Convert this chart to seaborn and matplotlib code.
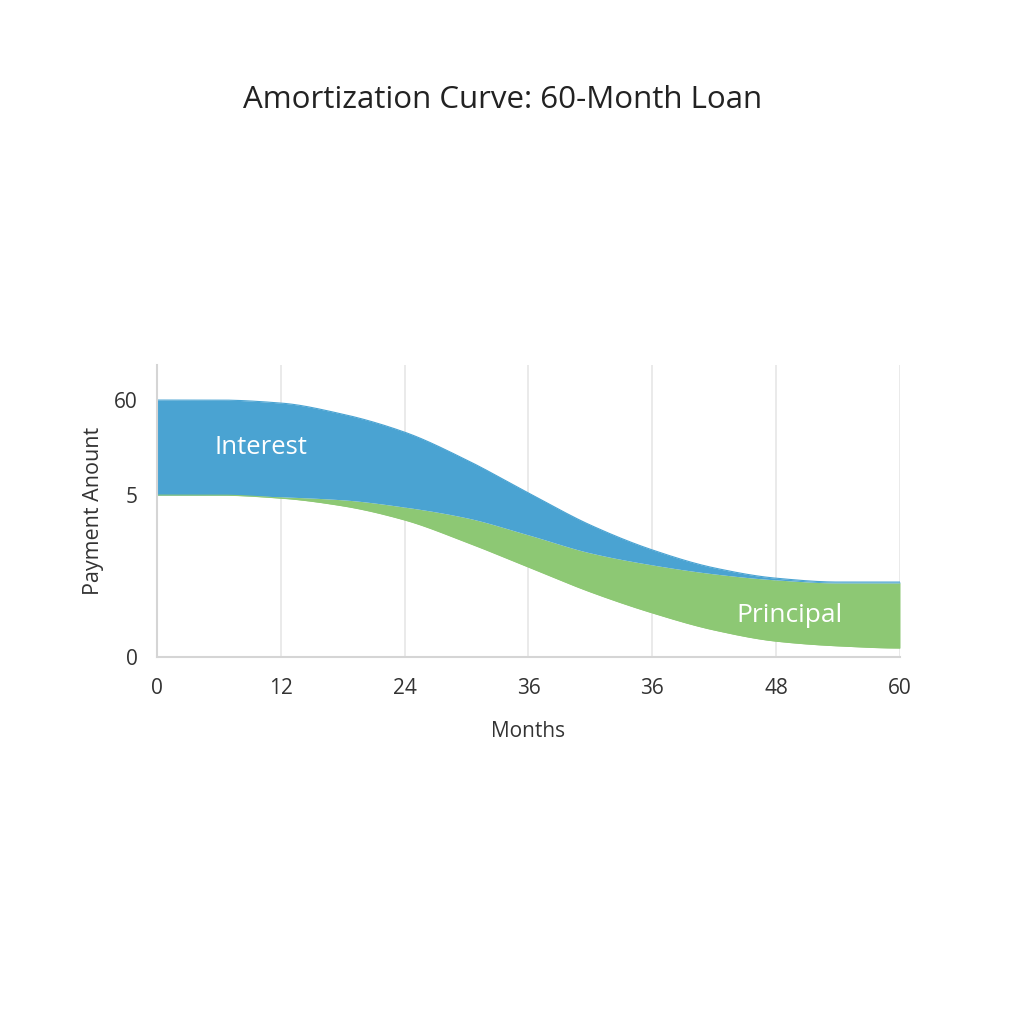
import numpy as np
import pandas as pd
import matplotlib
matplotlib.use("Agg")
import matplotlib.pyplot as plt
import seaborn as sns

# ---- data ----
months = [0, 5, 10, 15, 20, 25, 30, 35, 40, 45, 50, 55, 60]
baseline = [37.8, 37.8, 37.1, 35.3, 32.0, 26.8, 21.0, 15.2, 10.3, 6.3, 3.7, 2.6, 2.1]
principal = [0.0, 0.0, 0.3, 1.4, 3.0, 5.7, 7.5, 9.1, 11.2, 13.1, 14.3, 14.7, 15.2]
interest = [22.2, 22.2, 21.9, 20.0, 17.5, 13.5, 9.8, 6.5, 3.5, 1.4, 0.4, 0.2, 0.2]

x_tick_pos = [0, 10, 20, 30, 40, 50, 60]
x_tick_labels = ["0", "12", "24", "36", "36", "48", "60"]
y_tick_pos = [0, 37.8, 60]
y_tick_labels = ["0", "5", "60"]

title = "Amortization Curve: 60-Month Loan"
xlabel = "Months"
ylabel = "Payment Anount"

BLUE = "#4aa3d2"
GREEN = "#8dc874"

sns.set_theme(style="whitegrid")
plt.rcParams["font.family"] = ["Open Sans", "DejaVu Sans"]

df = pd.DataFrame({"month": months, "base": baseline,
                   "principal": principal, "interest": interest})
df["mid"] = df["base"] + df["principal"]
df["top"] = df["mid"] + df["interest"]

# smooth rendering of the edges (monotone cubic through the read points)
def pchip(x, y, xn):
    x = np.asarray(x, float); y = np.asarray(y, float)
    h = np.diff(x); d = np.diff(y) / h
    m = np.zeros_like(y)
    for i in range(1, len(y) - 1):
        if d[i - 1] * d[i] > 0:
            w1 = 2 * h[i] + h[i - 1]; w2 = h[i] + 2 * h[i - 1]
            m[i] = (w1 + w2) / (w1 / d[i - 1] + w2 / d[i])
    m[0] = 0.0
    m[-1] = 0.0
    idx = np.clip(np.searchsorted(x, xn) - 1, 0, len(x) - 2)
    t = (xn - x[idx]) / h[idx]
    h00 = 2 * t**3 - 3 * t**2 + 1; h10 = t**3 - 2 * t**2 + t
    h01 = -2 * t**3 + 3 * t**2; h11 = t**3 - t**2
    return h00 * y[idx] + h10 * h[idx] * m[idx] + h01 * y[idx + 1] + h11 * h[idx] * m[idx + 1]

xs = np.linspace(0, 60, 600)
base_s = pchip(df["month"], df["base"], xs)
mid_s = pchip(df["month"], df["mid"], xs)
top_s = pchip(df["month"], df["top"], xs)
mid_s = np.maximum(mid_s, base_s)
top_s = np.maximum(top_s, mid_s)

fig = plt.figure(figsize=(10.24, 10.24), dpi=100)
ax = fig.add_axes([0.1533, 0.3584, 0.7256, 0.2852])

ax.fill_between(xs, base_s, mid_s, color=GREEN, linewidth=0)
ax.fill_between(xs, mid_s, top_s, color=BLUE, linewidth=0)
sns.lineplot(x=xs, y=top_s, color=BLUE, linewidth=0.8, ax=ax)
sns.lineplot(x=xs, y=base_s, color=GREEN, linewidth=0.8, ax=ax)

ax.set_xlim(0, 60)
ax.set_ylim(0, 68.2)
ax.set_xticks(x_tick_pos)
ax.set_xticklabels(x_tick_labels)
ax.set_yticks(y_tick_pos)
ax.set_yticklabels(y_tick_labels)
ax.tick_params(axis="x", labelsize=15, colors="#333333", pad=15, length=0)
ax.tick_params(axis="y", labelsize=15, colors="#333333", pad=14, length=0)

ax.grid(axis="y", visible=False)
ax.grid(axis="x", color="#e6e6e6", linewidth=1.2)
ax.set_axisbelow(True)
for s in ["top", "right"]:
    ax.spines[s].set_visible(False)
for s in ["left", "bottom"]:
    ax.spines[s].set_visible(True)
    ax.spines[s].set_color("#d5d5d5")
    ax.spines[s].set_linewidth(1.5)

ax.set_xlabel(xlabel, fontsize=15, color="#333333", labelpad=16)
ax.set_ylabel(ylabel, fontsize=15.5, color="#333333", labelpad=7)

ax.text(8.4, 49.0, "Interest", color="white", fontsize=18.5, ha="center", va="center")
ax.text(51.1, 9.6, "Principal", color="white", fontsize=19, ha="center", va="center")

fig.text(0.491, 0.902, title, fontsize=22.5, color="#222222", ha="center", va="center")

fig.savefig("out.png", dpi=100, facecolor="white")
